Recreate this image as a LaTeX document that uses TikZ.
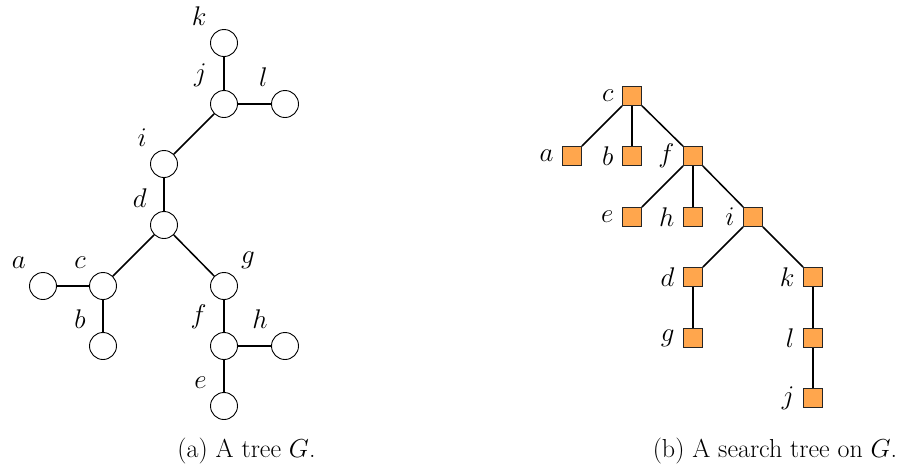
\RequirePackage{fix-cm}
\documentclass[tikz,border=0pt]{standalone}
\definecolor{sqfill}{RGB}{255,166,77}
\begin{document}
\begin{tikzpicture}[x=1pt,y=-1pt,
  vtx/.style={circle,draw,line width=0.9pt,minimum size=27pt,inner sep=0pt},
  sqn/.style={rectangle,draw=black!85,fill=sqfill,line width=0.8pt,minimum size=19pt,inner sep=0pt},
  conn/.style={line width=1.5pt},
  ul/.style={label={[label distance=7.5pt,inner sep=2pt,font=\fontsize{27}{32}\selectfont]135:$#1$}},
  ur/.style={label={[label distance=7pt,inner sep=2pt,font=\fontsize{27}{32}\selectfont]45:$#1$}},
  lf/.style={label={[label distance=6.5pt,inner sep=2pt,font=\fontsize{27}{32}\selectfont]180:$#1$}},
  captext/.style={font=\fontsize{26}{32}\selectfont,anchor=base}
]
\useasboundingbox (0,0) rectangle (900,467);
% left tree
\node[vtx,ul=k] (k) at (224,43) {};
\node[vtx,ul=j] (j) at (224,104) {};
\node[vtx,ul=l] (l) at (285,104) {};
\node[vtx,ul=i] (i) at (164,164) {};
\node[vtx,ul=d] (d) at (164,225) {};
\node[vtx,ul=c] (c) at (103,286) {};
\node[vtx,ul=a] (a) at (43,286) {};
\node[vtx,ul=b] (b) at (103,346) {};
\node[vtx,ur=g] (g) at (224,286) {};
\node[vtx,ul=f] (f) at (224,346) {};
\node[vtx,ul=h] (h) at (285,346) {};
\node[vtx,ul=e] (e) at (224,406) {};
\foreach \u/\v in {j/k,j/l,j/i,i/d,d/c,d/g,c/a,c/b,g/f,f/h,f/e}
  \draw[conn] (\u) -- (\v);
% right tree
\node[sqn,lf=c] (rc) at (632,96) {};
\node[sqn,lf=a] (ra) at (572,156) {};
\node[sqn,lf=b] (rb) at (632,156) {};
\node[sqn,lf=f] (rf) at (693,156) {};
\node[sqn,lf=e] (re) at (632,217) {};
\node[sqn,lf=h] (rh) at (693,217) {};
\node[sqn,lf=i] (ri) at (753,217) {};
\node[sqn,lf=d] (rd) at (693,277) {};
\node[sqn,lf=k] (rk) at (813,277) {};
\node[sqn,lf=g] (rg) at (693,338) {};
\node[sqn,lf=l] (rl) at (813,338) {};
\node[sqn,lf=j] (rj) at (813,398) {};
\foreach \u/\v in {rc/ra,rc/rb,rc/rf,rf/re,rf/rh,rf/ri,ri/rd,ri/rk,rd/rg,rk/rl,rl/rj}
  \draw[conn] (\u) -- (\v);
% captions
\node[captext] (capa) at (246.5,457) {(a) A tree $G$.};
\node[captext] (capb) at (775,457) {(b) A search tree on $G$.};
\end{tikzpicture}
\end{document}
